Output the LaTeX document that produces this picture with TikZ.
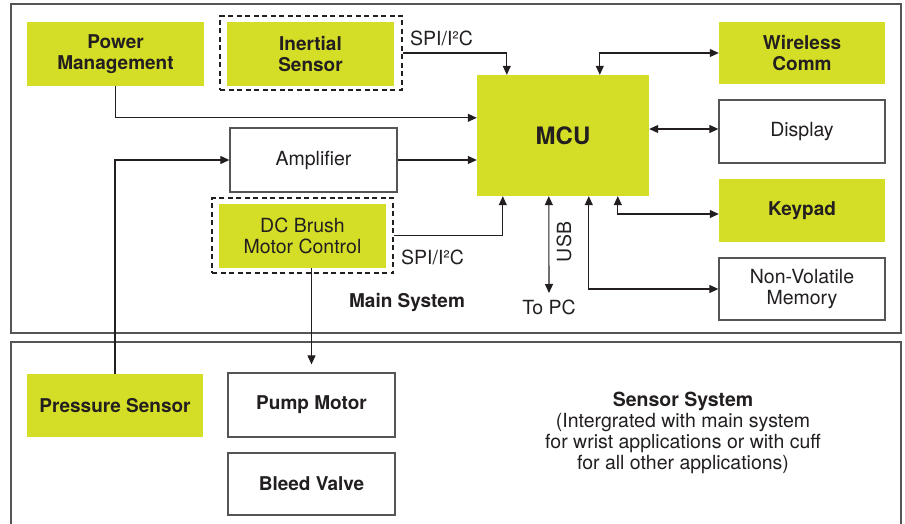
\documentclass[tikz,border=0pt]{standalone}
\usepackage{fontspec}
\setmainfont{TeX Gyre Heros}
\usetikzlibrary{arrows.meta,calc}
\definecolor{lime}{RGB}{212,222,38}
\definecolor{ink}{RGB}{35,31,32}
\definecolor{frame}{RGB}{85,85,85}
\begin{document}
\begin{tikzpicture}[x=1pt,y=-1pt,
  every node/.style={text=ink,font=\fontsize{19.5}{21}\selectfont,align=center,inner sep=0pt},
  gbox/.style={fill=lime,font=\fontsize{19}{21}\selectfont\bfseries},
  wbox/.style={draw=frame,line width=1.3pt,fill=white},
  dbox/.style={draw=ink,line width=2pt,dash pattern=on 5pt off 3.5pt},
  sysbox/.style={draw=frame,line width=1.3pt},
  conn/.style={draw=ink,line width=1.1pt,-{Triangle[length=9pt,width=8pt]}},
  bconn/.style={draw=ink,line width=1.1pt,{Triangle[length=9pt,width=8pt]}-{Triangle[length=9pt,width=8pt]}},
  plain/.style={draw=ink,line width=1.1pt}]
\useasboundingbox (0,0) rectangle (905,524);
\fill[white] (0,0) rectangle (905,524);
% system frames
\draw[sysbox] (11,4) rectangle (901,333);
\begin{scope}
\clip (0,0) rectangle (905,524);
\draw[sysbox] (11,342) rectangle (901,540);
\end{scope}
% main system nodes
\node[gbox,minimum width=177pt,minimum height=64pt] (pm) at (115.5,54) {Power\\Management};
\node[dbox,minimum width=182pt,minimum height=74pt] (inerd) at (311,53) {};
\node[gbox,minimum width=167pt,minimum height=64pt] (iner) at (310.5,54) {Inertial\\Sensor};
\node[gbox,minimum width=172pt,minimum height=121pt,font=\fontsize{24}{28}\selectfont\bfseries] (mcu) at (563,135.5) {MCU};
\node[gbox,minimum width=166pt,minimum height=62pt] (wl) at (802,53) {Wireless\\Comm};
\node[wbox,minimum width=166pt,minimum height=63pt] (disp) at (802,131.5) {Display};
\node[gbox,minimum width=166pt,minimum height=63pt] (kp) at (802,210.5) {Keypad};
\node[wbox,minimum width=166pt,minimum height=62pt] (nvm) at (802,289) {Non-Volatile\\Memory};
\node[wbox,minimum width=167pt,minimum height=64pt] (amp) at (313.5,160) {Amplifier};
\node[dbox,minimum width=181pt,minimum height=75pt] (dcd) at (302.5,235.5) {};
\node[gbox,minimum width=167pt,minimum height=64pt,font=\fontsize{19.5}{21}\selectfont] (dc) at (302.5,236) {DC Brush\\Motor Control};
% sensor system nodes
\node[gbox,minimum width=176pt,minimum height=63pt] (ps) at (115,405.5) {Pressure Sensor};
\node[wbox,minimum width=167pt,minimum height=64pt,font=\fontsize{19}{21}\selectfont\bfseries] (pump) at (311.5,405) {Pump Motor};
\node[wbox,minimum width=167pt,minimum height=62pt,font=\fontsize{19}{21}\selectfont\bfseries] (bleed) at (311.5,484) {Bleed Valve};
% labels
\node[anchor=west] (spi1) at (410,38) {SPI/I²C};
\node[anchor=west] (spi2) at (401,257) {SPI/I²C};
\node[font=\fontsize{19}{21}\selectfont\bfseries] (mainlbl) at (407,303) {Main System};
\node (topc) at (549,307) {To PC};
\node[rotate=90] (usb) at (564,242) {USB};
\node (senslbl) at (683,433) {\textbf{Sensor System}\\(Intergrated with main system\\for wrist applications or with cuff\\for all other applications)};
% coordinates
\coordinate (pc) at (549,293);
\coordinate (pumpin) at ($(pump.north)+(0,-8)$);
% connectors
\draw[conn] (inerd.east) -| ($(mcu.north west)+(30,0)$);
\draw[bconn] ($(mcu.north west)+(123,0)$) |- (wl.west);
\draw[bconn] (mcu.east |- 0,129) -- (disp.west |- 0,129);
\draw[conn] (pm.south) |- ($(mcu.north west)+(0,43)$);
\draw[conn] (amp.east) -- (mcu.west |- amp.east);
\draw[conn] (ps.north) |- (amp.west);
\draw[conn] (dcd.east) -| ($(mcu.south west)+(26,0)$);
\draw[bconn] ($(mcu.south west)+(72,0)$) -- (pc);
\draw[bconn] ($(mcu.south west)+(112,0)$) |- (nvm.west);
\draw[bconn] ($(mcu.south west)+(141,0)$) |- (kp.west |- 0,214);
\draw[conn] (dc.south -| pump.north) -- (pumpin);
\end{tikzpicture}
\end{document}
